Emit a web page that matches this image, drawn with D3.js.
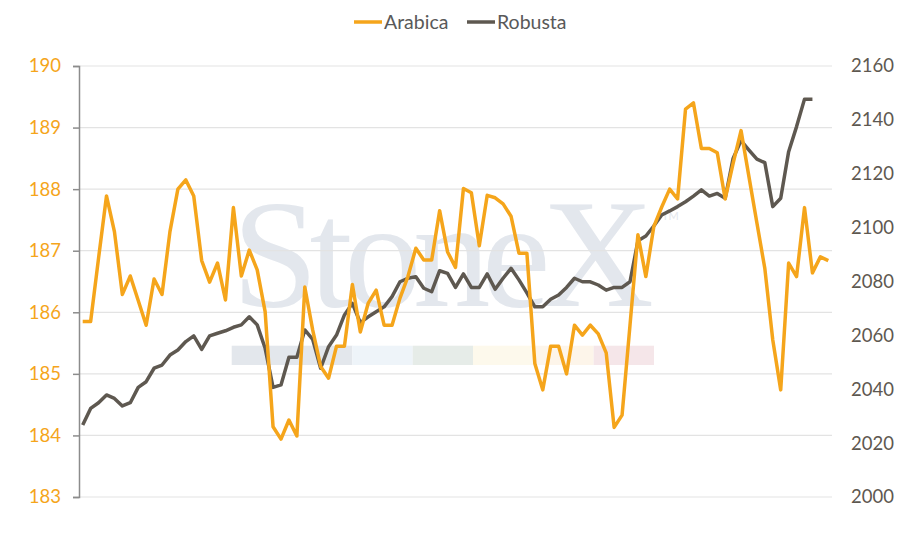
<!DOCTYPE html>
<html>
<head>
<meta charset="utf-8">
<script src="https://cdn.jsdelivr.net/npm/d3@7"></script>
<style>
  body { margin: 0; background: #fff; }
  svg { display: block; font-family: Lato, "Open Sans", sans-serif; }
</style>
</head>
<body>
<svg id="chart" width="920" height="539"></svg>
<script>
// valeurs (une valeur par semaine)
const arabica = [185.85, 185.85, 186.88, 187.89, 187.31, 186.29, 186.59, 186.19, 185.79, 186.54,
  186.29, 187.31, 188.00, 188.15, 187.89, 186.84, 186.49, 186.80, 186.20, 187.70,
  186.59, 187.01, 186.69, 186.01, 184.14, 183.94, 184.25, 183.99, 186.41, 185.71,
  185.12, 184.93, 185.45, 185.45, 186.45, 185.68, 186.15, 186.36, 185.79, 185.79,
  186.23, 186.58, 187.04, 186.85, 186.85, 187.65, 186.98, 186.73, 188.01, 187.94,
  187.08, 187.90, 187.86, 187.76, 187.56, 186.96, 186.96, 185.17, 184.74, 185.45,
  185.45, 185.00, 185.79, 185.63, 185.79, 185.65, 185.34, 184.13, 184.33, 185.79,
  187.26, 186.58, 187.39, 187.71, 188.00, 187.84, 189.30, 189.40, 188.66, 188.66,
  188.59, 187.84, 188.42, 188.95, 188.20, 187.45, 186.71, 185.55, 184.74, 186.80,
  186.58, 187.70, 186.64, 186.90, 186.84]

const robusta = [2026.7, 2032.9, 2035.0, 2037.9, 2036.6, 2033.8, 2035.0, 2040.7, 2042.8, 2047.8,
  2049.0, 2052.7, 2054.6, 2057.7, 2059.8, 2054.8, 2059.8, 2060.8, 2061.7, 2063.0,
  2063.9, 2066.9, 2063.9, 2055.2, 2040.7, 2041.6, 2051.9, 2051.9, 2062.0, 2058.5,
  2047.8, 2055.8, 2060.1, 2067.6, 2071.9, 2064.7, 2066.9, 2068.8, 2070.6, 2074.4,
  2079.9, 2081.2, 2081.8, 2077.5, 2076.2, 2084.0, 2083.0, 2077.8, 2082.8, 2077.8,
  2077.8, 2082.8, 2077.1, 2081.2, 2084.9, 2080.6, 2075.8, 2070.6, 2070.6, 2073.4,
  2075.0, 2077.8, 2081.2, 2079.9, 2079.9, 2078.7, 2076.8, 2077.8, 2077.8, 2079.9,
  2095.1, 2096.9, 2100.6, 2104.7, 2106.2, 2107.8, 2109.6, 2111.7, 2114.0, 2111.7,
  2112.7, 2110.9, 2125.7, 2132.3, 2128.8, 2125.4, 2124.1, 2107.8, 2110.9, 2128.2,
  2137.5, 2147.7, 2147.7, null, null]

const leftTicks = [183, 184, 185, 186, 187, 188, 189, 190]
const rightTicks = [2000, 2020, 2040, 2060, 2080, 2100, 2120, 2140, 2160]
const seriesNames = ["Arabica", "Robusta"]
const seriesColors = ["#f5a51b", "#5e5850"]
const watermarkColors = ["#e3e7ec", "#eef4f9", "#e6ece8", "#fdf9ec", "#fdf5ea", "#f5e6e9"]

const svg = d3.select("#chart")

// zone du graphique
const plot = { left: 79, right: 832, top: 66, bottom: 497 }

const x = d3.scaleLinear().domain([0, arabica.length - 1]).range([82.7, 828.3])
const yL = d3.scaleLinear().domain([183, 190]).range([plot.bottom, plot.top])
const yR = d3.scaleLinear().domain([2000, 2160]).range([plot.bottom, plot.top])

//#region Filigrane StoneX
const wm = svg.append("g")
wm.append("text")
  .attr("x", 232).attr("y", 306)
  .attr("font-family", "Liberation Serif, Times New Roman, serif")
  .attr("font-size", 155)
  .attr("textLength", 422)
  .attr("fill", "#e3e7ed")
  .text("StoneX")
wm.append("text")
  .attr("x", 662).attr("y", 220)
  .attr("font-size", 11)
  .attr("fill", "#e3e7ed")
  .text("TM")

const barX = d3.scaleLinear().domain([0, 7]).range([231.7, 654])
wm.selectAll("rect")
  .data(watermarkColors)
  .join("rect")
  .attr("x", (d, i) => i === 0 ? barX(0) : barX(i + 1))
  .attr("width", (d, i) => i === 0 ? barX(2) - barX(0) : barX(i + 2) - barX(i + 1))
  .attr("y", 345.7)
  .attr("height", 19.3)
  .attr("fill", d => d)
//#endregion

// lignes de grille
svg.append("g")
  .selectAll("line")
  .data(leftTicks)
  .join("line")
  .attr("x1", plot.left).attr("x2", plot.right)
  .attr("y1", d => yL(d)).attr("y2", d => yL(d))
  .attr("stroke", "#e3e3e3")
  .attr("stroke-width", 1.2)

// axe gauche
const axL = svg.append("g")
  .attr("transform", `translate(${plot.left},0)`)
  .call(d3.axisLeft(yL).tickValues(leftTicks).tickFormat(d3.format("d")).tickSize(6).tickPadding(12))
axL.select(".domain").attr("stroke", "#8c8c8c").attr("stroke-width", 1.5)
axL.selectAll(".tick line").attr("stroke", "#8c8c8c").attr("stroke-width", 1.5)
axL.selectAll(".tick text")
  .attr("fill", seriesColors[0])
  .attr("font-size", 18.5)
  .attr("font-family", "Lato, sans-serif")

// axe droit
const axR = svg.append("g")
  .attr("transform", `translate(${plot.right},0)`)
  .call(d3.axisRight(yR).tickValues(rightTicks).tickFormat(d3.format("d")).tickSize(0).tickPadding(19))
axR.select(".domain").remove()
axR.selectAll(".tick text")
  .attr("fill", seriesColors[1])
  .attr("font-size", 18.5)
  .attr("font-family", "Lato, sans-serif")

// courbes
const lineL = d3.line().defined(d => d != null).x((d, i) => x(i)).y(d => yL(d))
const lineR = d3.line().defined(d => d != null).x((d, i) => x(i)).y(d => yR(d))

svg.append("path")
  .datum(robusta)
  .attr("d", lineR)
  .attr("fill", "none")
  .attr("stroke", seriesColors[1])
  .attr("stroke-width", 3.5)
  .attr("stroke-linejoin", "round")

svg.append("path")
  .datum(arabica)
  .attr("d", lineL)
  .attr("fill", "none")
  .attr("stroke", seriesColors[0])
  .attr("stroke-width", 3.5)
  .attr("stroke-linejoin", "round")

// légende faite main
const legX = [354, 467]
const leg = svg.append("g")
seriesNames.forEach(function (name, i) {
  leg.append("line")
    .attr("x1", legX[i]).attr("x2", legX[i] + 28)
    .attr("y1", 22).attr("y2", 22)
    .attr("stroke", seriesColors[i])
    .attr("stroke-width", 3.5)
  leg.append("text")
    .attr("x", legX[i] + 30).attr("y", 28.5)
    .attr("font-size", 19.5)
    .attr("fill", "#595959")
    .text(name)
})
</script>
</body>
</html>
